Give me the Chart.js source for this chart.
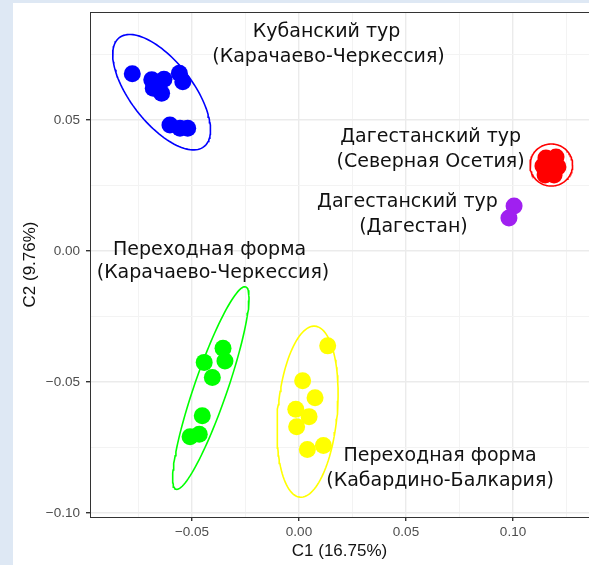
<!DOCTYPE html>
<html><head><meta charset="utf-8">
<script src="https://cdn.jsdelivr.net/npm/chart.js@4/dist/chart.umd.min.js"></script>
<style>
html,body{margin:0;padding:0;background:#dee8f4;width:589px;height:565px;overflow:hidden}
#wrap{position:absolute;left:13px;top:3px;width:576px;height:562px;background:#fff}
canvas{display:block}
</style></head><body><div id="wrap"><canvas id="c" width="576" height="562"></canvas></div>
<script>
// ---- data (C1, C2 coordinates) ----
const groupNames = ['Кубанский тур (КЧР)', 'Дагестанский тур (Северная Осетия)', 'Дагестанский тур (Дагестан)', 'Переходная форма (КЧР)', 'Переходная форма (КБР)'];
const groupColors = ['#0000ff', '#ff0000', '#a020f0', '#00ff00', '#ffff00'];

const kubanC1 = [-0.0779, -0.0688, -0.0681, -0.0642, -0.0631, -0.0559, -0.0543, -0.0603, -0.0556, -0.0520];
const kubanC2 = [0.0676, 0.0653, 0.0621, 0.0602, 0.0655, 0.0678, 0.0646, 0.0481, 0.0468, 0.0468];
const osetiaC1 = [0.1154, 0.1201, 0.1210, 0.1192, 0.1150, 0.1140, 0.1173];
const osetiaC2 = [0.0355, 0.0359, 0.0321, 0.0290, 0.0290, 0.0324, 0.0324];
const dagestanC1 = [0.1005, 0.0981];
const dagestanC2 = [0.0172, 0.0126];
const perKchrC1 = [-0.0355, -0.0346, -0.0443, -0.0405, -0.0452, -0.0466, -0.0509];
const perKchrC2 = [-0.0371, -0.0420, -0.0425, -0.0483, -0.0629, -0.0699, -0.0709];
const perKbrC1 = [0.0134, 0.0017, 0.0075, -0.0015, 0.0047, -0.0011, 0.0039, 0.0114];
const perKbrC2 = [-0.0362, -0.0495, -0.0560, -0.0604, -0.0632, -0.0671, -0.0757, -0.0742];

// ellipse parameters (centre, half-axis vectors), one entry per group with ellipse
const ellipseGroup = [0, 1, 3, 4];
const ellipseCX = [-0.0642, 0.1179, -0.0412, 0.0040];
const ellipseCY = [0.0606, 0.0328, -0.0523, -0.0613];
const ellipseAX = [0.01977, 0.00995, 0.01630, 0.00351];
const ellipseAY = [-0.02080, 0.0, 0.03861, 0.03263];
const ellipseBX = [0.01145, 0.0, 0.00728, 0.01383];
const ellipseBY = [0.00725, 0.00802, -0.00208, -0.00099];

// text labels
const labelText = ['Кубанский тур', '(Карачаево-Черкессия)', 'Дагестанский тур', '(Северная Осетия)', 'Дагестанский тур', '(Дагестан)', 'Переходная форма', '(Карачаево-Черкессия)', 'Переходная форма', '(Кабардино-Балкария)'];
const labelX = [0.0129, 0.0138, 0.0615, 0.0615, 0.0507, 0.0535, -0.0418, -0.0402, 0.0659, 0.0659];
const labelY = [0.0836, 0.0740, 0.0435, 0.0341, 0.0188, 0.0092, 0.0005, -0.0083, -0.0782, -0.0877];

// axes
const xTickValues = [-0.075, -0.05, -0.025, 0, 0.025, 0.05, 0.075, 0.1, 0.125];
const yTickValues = [-0.1, -0.075, -0.05, -0.025, 0, 0.025, 0.05, 0.075];
const xRange = [-0.09766, 0.13551];
const yRange = [-0.1015, 0.0912];
const xTitle = 'C1 (16.75%)';
const yTitle = 'C2 (9.76%)';

// ---- build ----
const groupsX = [kubanC1, osetiaC1, dagestanC1, perKchrC1, perKbrC1];
const groupsY = [kubanC2, osetiaC2, dagestanC2, perKchrC2, perKbrC2];

const datasets = [];
groupsX.forEach((xs, g) => {
  datasets.push({
    label: groupNames[g],
    data: xs.map((x, i) => ({x, y: groupsY[g][i]})),
    backgroundColor: groupColors[g],
    borderWidth: 0,
    pointRadius: 8.5,
    showLine: false
  });
});
ellipseGroup.forEach((g, k) => {
  const pts = [];
  const n = 120;
  for (let i = 0; i <= n; i++) {
    const t = 2 * Math.PI * i / n;
    pts.push({
      x: ellipseCX[k] + ellipseAX[k] * Math.cos(t) + ellipseBX[k] * Math.sin(t),
      y: ellipseCY[k] + ellipseAY[k] * Math.cos(t) + ellipseBY[k] * Math.sin(t)
    });
  }
  datasets.push({
    label: groupNames[g] + ' ellipse',
    data: pts,
    showLine: true,
    borderColor: groupColors[g],
    borderWidth: 1.6,
    pointRadius: 0,
    fill: false,
    tension: 0
  });
});

const isMajor = v => Math.abs(v / 0.05 - Math.round(v / 0.05)) < 1e-6;
const fmt = v => (v < 0 ? '\u2212' : '') + Math.abs(v).toFixed(2);

const labelsPlugin = {
  id: 'labels',
  afterDatasetsDraw(chart) {
    const {ctx, scales: {x, y}, chartArea} = chart;
    ctx.save();
    ctx.strokeStyle = '#333';
    ctx.lineWidth = 1;
    ctx.beginPath();
    ctx.moveTo(chartArea.left, chartArea.top + 0.5);
    ctx.lineTo(chartArea.right, chartArea.top + 0.5);
    ctx.stroke();
    ctx.fillStyle = '#111';
    ctx.font = '19px "DejaVu Sans"';
    ctx.textAlign = 'center';
    ctx.textBaseline = 'middle';
    labelText.forEach((t, i) => {
      ctx.fillText(t, x.getPixelForValue(labelX[i]), y.getPixelForValue(labelY[i]));
    });
    ctx.restore();
  }
};

Chart.defaults.font.family = '"Liberation Sans", Arial, sans-serif';

new Chart(document.getElementById('c'), {
  type: 'scatter',
  data: {datasets},
  plugins: [labelsPlugin],
  options: {
    responsive: false,
    animation: false,
    events: [],
    layout: {autoPadding: false, padding: {top: 9, right: 0, left: 0, bottom: 0}},
    plugins: {legend: {display: false}, tooltip: {enabled: false}},
    scales: {
      x: {
        type: 'linear', min: xRange[0], max: xRange[1],
        afterBuildTicks: s => { s.ticks = xTickValues.map(v => ({value: v})); },
        afterFit: s => { s.height = 48; s.paddingLeft = 0; s.paddingRight = 0; },
        ticks: {autoSkip: false, maxRotation: 0, padding: 3, color: '#4d4d4d', font: {size: 13.5},
          callback: v => isMajor(v) ? fmt(v) : ''},
        grid: {color: c => isMajor(c.tick.value) ? '#ebebeb' : '#f3f3f3',
          lineWidth: c => isMajor(c.tick.value) ? 1.4 : 1,
          tickColor: c => isMajor(c.tick.value) ? '#333' : 'rgba(0,0,0,0)', tickLength: 4},
        border: {display: true, color: '#333', width: 1},
        title: {display: true, text: xTitle, color: '#111', font: {size: 17}, padding: {top: 0, bottom: 3}}
      },
      y: {
        type: 'linear', min: yRange[0], max: yRange[1],
        afterBuildTicks: s => { s.ticks = yTickValues.map(v => ({value: v})); },
        afterFit: s => { s.width = 77; s.paddingTop = 0; s.paddingBottom = 0; },
        ticks: {autoSkip: false, padding: 6, color: '#4d4d4d', font: {size: 13.5},
          callback: v => isMajor(v) ? fmt(v) : ''},
        grid: {color: c => isMajor(c.tick.value) ? '#ebebeb' : '#f3f3f3',
          lineWidth: c => isMajor(c.tick.value) ? 1.4 : 1,
          tickColor: c => isMajor(c.tick.value) ? '#333' : 'rgba(0,0,0,0)', tickLength: 4},
        border: {display: true, color: '#333', width: 1},
        title: {display: true, text: yTitle, color: '#111', font: {size: 17}, padding: {top: 7, bottom: 0}}
      }
    }
  }
});
</script></body></html>
